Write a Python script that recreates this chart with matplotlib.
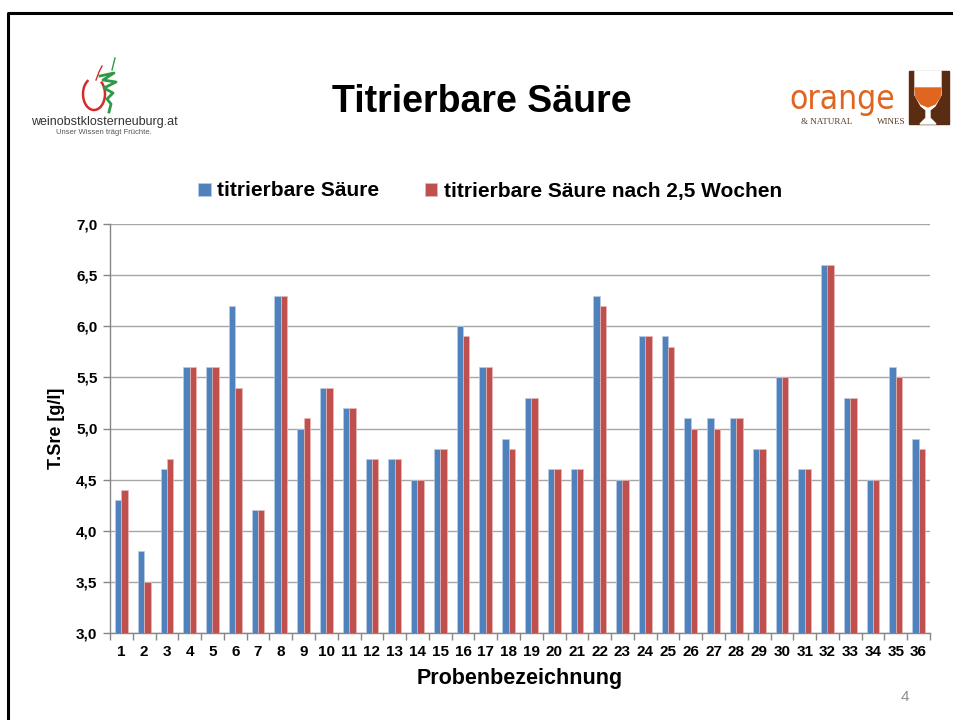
import matplotlib.pyplot as plt
from matplotlib.patches import Polygon, Rectangle
from matplotlib.ticker import FixedLocator, FuncFormatter
import numpy as np

plt.rcParams['font.family'] = ['Liberation Sans', 'DejaVu Sans']

# data
proben = [str(i) for i in range(1, 37)]
saeure = [4.3, 3.8, 4.6, 5.6, 5.6, 6.2, 4.2, 6.3, 5.0, 5.4, 5.2, 4.7,
          4.7, 4.5, 4.8, 6.0, 5.6, 4.9, 5.3, 4.6, 4.6, 6.3, 4.5, 5.9,
          5.9, 5.1, 5.1, 5.1, 4.8, 5.5, 4.6, 6.6, 5.3, 4.5, 5.6, 4.9]
saeure_2_5w = [4.4, 3.5, 4.7, 5.6, 5.6, 5.4, 4.2, 6.3, 5.1, 5.4, 5.2, 4.7,
               4.7, 4.5, 4.8, 5.9, 5.6, 4.8, 5.3, 4.6, 4.6, 6.2, 4.5, 5.9,
               5.8, 5.0, 5.0, 5.1, 4.8, 5.5, 4.6, 6.6, 5.3, 4.5, 5.5, 4.8]
y_ticks = [3.0, 3.5, 4.0, 4.5, 5.0, 5.5, 6.0, 6.5, 7.0]

W, H = 954, 720
fig = plt.figure(figsize=(W / 100, H / 100), dpi=100)


def fx(px):
    return px / W


def fy(py):
    return 1 - py / H


# overlay axes in pixel coordinates for slide decorations
deco = fig.add_axes([0, 0, 1, 1], zorder=0)
deco.set_xlim(0, W)
deco.set_ylim(H, 0)
deco.axis('off')

# slide frame
deco.plot([8, 8, W], [H, 12.5, 12.5], color='black', lw=2.2, solid_capstyle='butt')

# left logo (apple + swirl, rough)
t = np.linspace(0.2 * np.pi, 1.75 * np.pi, 60)
deco.plot(94 - 11 * np.sin(t), 94 - 16 * np.cos(t), color='#D42B2B', lw=1.8)
deco.plot([96, 99, 102], [80, 72, 66], color='#D42B2B', lw=1.0)
deco.plot([100, 114, 103, 116, 104, 113, 107, 111, 109],
          [76, 73, 80, 82, 88, 93, 99, 104, 112], color='#2E9A47', lw=2.0)
deco.plot([112, 115], [70, 58], color='#2E9A47', lw=1.0)
deco.text(104, 122, 'weinobstklosterneuburg.at', ha='center', va='center',
          fontsize=9, color='#333333')
deco.text(104, 132, 'Unser Wissen trägt Früchte.', ha='center', va='center',
          fontsize=5.5, color='#555555')

# right logo (orange & natural wines, rough)
deco.text(842, 99, 'orange', ha='center', va='center', fontsize=24,
          color='#E0651E', family='DejaVu Sans', stretch='condensed',
          transform=deco.transData)
deco.text(827, 122, '& NATURAL', ha='center', va='center', fontsize=6.5,
          color='#5A3A22', family='Liberation Serif')
deco.text(891, 122, 'WINES', ha='center', va='center', fontsize=6.5,
          color='#5A3A22', family='Liberation Serif')
deco.add_patch(Rectangle((909, 71), 40, 53, color='#5A2D12'))
glass = [[915, 71], [941, 71], [941, 95], [935, 106], [930, 110], [930, 118],
         [936, 124], [920, 124], [926, 118], [926, 110], [921, 106], [915, 95]]
deco.add_patch(Polygon(glass, color='white'))
deco.add_patch(Polygon([[915, 88], [941, 88], [940, 97], [935, 104], [928, 107],
                        [921, 104], [916, 97]], color='#E0651E'))

# title and page number
deco.text(482, 102, 'Titrierbare Säure', ha='center', va='center',
          fontsize=27, fontweight='bold')
deco.text(905, 697, '4', ha='center', va='center', fontsize=11, color='#8C8C8C')

# main chart
ax = fig.add_axes([fx(110), fy(633), fx(930) - fx(110), fy(224) - fy(633)], zorder=1)
ax.patch.set_alpha(0)
x = np.arange(len(proben))
bw = 0.28
ax.bar(x - bw / 2, saeure, bw, color='#4F81BD', edgecolor='#B9CDE5',
       linewidth=0.5, label='titrierbare Säure', zorder=3)
ax.bar(x + bw / 2, saeure_2_5w, bw, color='#C0504D', edgecolor='#E6B9B8',
       linewidth=0.5, label='titrierbare Säure nach 2,5 Wochen', zorder=3)

ax.set_ylim(3.0, 7.0)
ax.set_xlim(-0.5, len(proben) - 0.5)
ax.set_yticks(y_ticks)
ax.yaxis.set_major_formatter(FuncFormatter(lambda v, p: f'{v:.1f}'.replace('.', ',')))
ax.set_xticks(x)
ax.set_xticklabels(proben)
ax.xaxis.set_minor_locator(FixedLocator(np.arange(-0.5, len(proben), 1.0)))
ax.tick_params(axis='x', which='major', length=0, pad=9, labelsize=11)
ax.tick_params(axis='x', which='minor', length=5, color='#868686', width=1)
ax.tick_params(axis='y', length=5, color='#868686', width=1, pad=4, labelsize=11)
for lab in ax.get_xticklabels() + ax.get_yticklabels():
    lab.set_fontweight('bold')

ax.grid(axis='y', color='#A6A6A6', lw=1, zorder=0)
ax.set_axisbelow(True)
for s in ['top', 'right']:
    ax.spines[s].set_visible(False)
for s in ['left', 'bottom']:
    ax.spines[s].set_color('#868686')
    ax.spines[s].set_linewidth(1)

ax.set_xlabel('Probenbezeichnung', fontsize=15.5, fontweight='bold', labelpad=6)
ax.set_ylabel('T.Sre [g/l]', fontsize=13, fontweight='bold', labelpad=8)

fig.legend(loc='center', bbox_to_anchor=(fx(490), fy(191)), ncol=2, frameon=False,
           prop={'size': 15, 'weight': 'bold'}, handlelength=0.6,
           handleheight=0.6, handletextpad=0.3, columnspacing=2.2)

fig.savefig('out.png', dpi=100)
